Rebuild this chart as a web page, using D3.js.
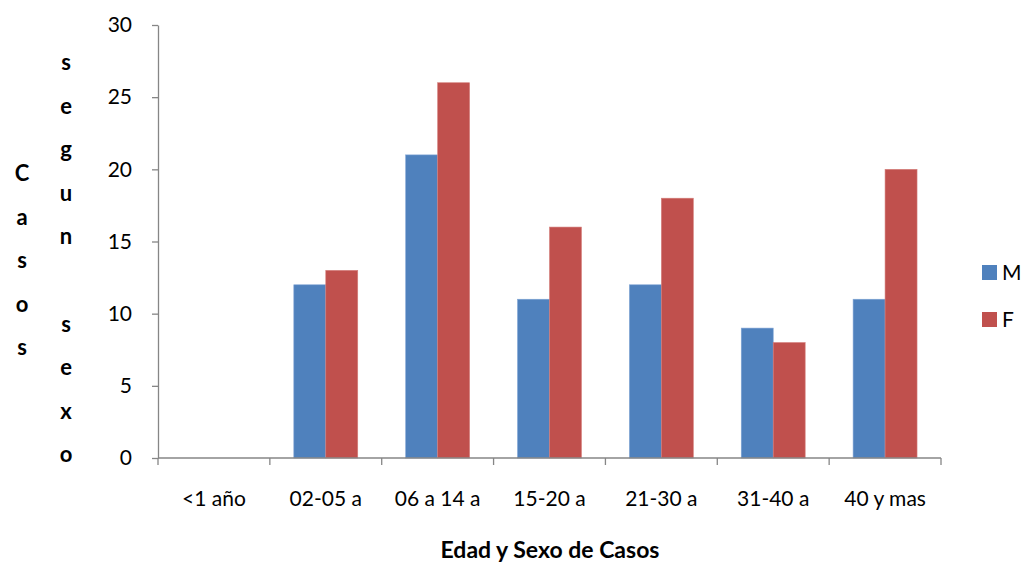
<!DOCTYPE html>
<html>
<head>
<meta charset="utf-8">
<script src="https://cdn.jsdelivr.net/npm/d3@7"></script>
<style>
  html, body { margin: 0; padding: 0; background: #fff; }
  svg { display: block; font-family: Lato, "Open Sans", sans-serif; }
</style>
</head>
<body>
<svg id="chart" width="1031" height="564"></svg>
<script>
// Age groups and counts by sex
const categories = ["<1 año", "02-05 a", "06 a 14 a", "15-20 a", "21-30 a", "31-40 a", "40 y mas"];
const seriesNames = ["M", "F"];
const valuesM = [0, 12, 21, 11, 12, 9, 11];
const valuesF = [0, 13, 26, 16, 18, 8, 20];
const yTicks = [0, 5, 10, 15, 20, 25, 30];
const colors = ["#4F81BD", "#C0504D"];

const svg = d3.select("#chart");
const plotLeft = 158, plotRight = 941, plotTop = 25, plotBottom = 458;
const axisColor = "#868686";
const labelSize = 21;

const x = d3.scaleBand().domain(categories).range([plotLeft, plotRight]).paddingInner(0).paddingOuter(0);
// Two bars take 2/3.5 of each category width
const barW = x.bandwidth() / 3.5;
const xs = d3.scaleBand().domain(seriesNames).range([0, 2 * barW]);
const y = d3.scaleLinear().domain([0, 30]).range([plotBottom, plotTop]);

const rows = categories.map((c, i) => ({ cat: c, vals: [valuesM[i], valuesF[i]] }));

// Bars
const g = svg.append("g");
rows.forEach(r => {
  r.vals.forEach((v, k) => {
    if (v <= 0) return;
    const x0 = x(r.cat) + x.bandwidth() / 2 - barW + xs(seriesNames[k]);
    g.append("rect")
      .attr("x", x0)
      .attr("y", y(v))
      .attr("width", xs.bandwidth())
      .attr("height", y(0) - y(v))
      .attr("fill", colors[k])
      .attr("stroke", k === 0 ? "#7FA3D4" : "#D47E7B")
      .attr("stroke-width", 0.6);
  });
});

// Y axis
const yAxis = d3.axisLeft(y).tickValues(yTicks).tickSize(6).tickSizeOuter(0).tickPadding(20);
const ya = svg.append("g").attr("transform", `translate(${plotLeft},0)`).call(yAxis);
ya.select(".domain").attr("stroke", axisColor).attr("stroke-width", 1.3);
ya.selectAll(".tick line").attr("stroke", axisColor).attr("stroke-width", 1.3);
ya.selectAll(".tick text").attr("font-size", labelSize).attr("fill", "#000").style("font-family", "Lato, sans-serif");

// X axis with ticks at category boundaries
const xa = svg.append("g").attr("transform", `translate(0,${plotBottom})`);
xa.append("line").attr("x1", plotLeft).attr("x2", plotRight).attr("y1", 0).attr("y2", 0)
  .attr("stroke", axisColor).attr("stroke-width", 1.3);
const bounds = categories.map(c => x(c)).concat([plotRight]);
xa.selectAll("line.tk").data(bounds).join("line").attr("class", "tk")
  .attr("x1", d => d).attr("x2", d => d).attr("y1", 0).attr("y2", 7)
  .attr("stroke", axisColor).attr("stroke-width", 1.3);
xa.selectAll("text").data(categories).join("text")
  .attr("x", d => x(d) + x.bandwidth() / 2)
  .attr("y", 48)
  .attr("text-anchor", "middle")
  .attr("font-size", labelSize)
  .attr("fill", "#000")
  .text(d => d);

// X title
svg.append("text")
  .attr("x", 550).attr("y", 558)
  .attr("text-anchor", "middle")
  .attr("font-size", 23).attr("font-weight", "bold")
  .text("Edad y Sexo de Casos");

// Y title, set letter by letter in two columns
const col1 = "Casos".split("");
const col2 = "segun sexo".split("");
const step = 43.6;
svg.append("g").selectAll("text").data(col1).join("text")
  .attr("x", 22).attr("y", (d, i) => 181 + i * step)
  .attr("text-anchor", "middle").attr("font-size", 22).attr("font-weight", "bold")
  .text(d => d);
svg.append("g").selectAll("text").data(col2).join("text")
  .attr("x", 66).attr("y", (d, i) => 70 + i * step)
  .attr("text-anchor", "middle").attr("font-size", 22).attr("font-weight", "bold")
  .text(d => d);

// Legend
const lg = svg.append("g");
seriesNames.forEach((n, i) => {
  const ly = 265 + i * 47;
  lg.append("rect").attr("x", 982).attr("y", ly).attr("width", 15).attr("height", 15).attr("fill", colors[i]);
  lg.append("text").attr("x", 1002).attr("y", ly + 15).attr("font-size", labelSize).text(n);
});
</script>
</body>
</html>
